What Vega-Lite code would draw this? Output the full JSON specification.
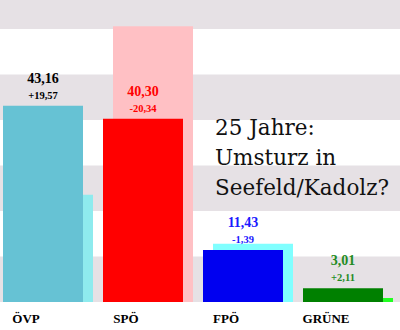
{
  "$schema": "https://vega.github.io/schema/vega-lite/v6.json",
  "width": 400,
  "height": 302,
  "padding": 0,
  "background": "#ffffff",
  "config": {"view": {"stroke": null}},
  "datasets": {
    "parties": [
      {"partei": "ÖVP", "aktuell": 43.16, "vorher": 23.59, "wert": "43,16", "diff": "+19,57"},
      {"partei": "SPÖ", "aktuell": 40.30, "vorher": 60.64, "wert": "40,30", "diff": "-20,34"},
      {"partei": "FPÖ", "aktuell": 11.43, "vorher": 12.82, "wert": "11,43", "diff": "-1,39"},
      {"partei": "GRÜNE", "aktuell": 3.01, "vorher": 0.90, "wert": "3,01", "diff": "+2,11"}
    ],
    "stripes": [
      {"von": 0, "bis": 10},
      {"von": 20, "bis": 30},
      {"von": 40, "bis": 50},
      {"von": 60, "bis": 70}
    ],
    "titel": [
      {"partei": "FPÖ", "pos": 40}
    ]
  },
  "layer": [
    {
      "data": {"name": "stripes"},
      "mark": {"type": "rect", "color": "#e6e1e5", "clip": true},
      "encoding": {
        "y": {"field": "von", "type": "quantitative", "scale": {"domain": [0, 66.4], "nice": false, "zero": true}, "axis": null},
        "y2": {"field": "bis"}
      }
    },
    {
      "data": {"name": "parties"},
      "mark": {"type": "bar", "width": 80, "xOffset": 3},
      "encoding": {
        "x": {"field": "partei", "type": "nominal", "sort": null,
              "scale": {"domain": ["ÖVP", "SPÖ", "FPÖ", "GRÜNE"], "range": [0, 400], "paddingInner": 0, "paddingOuter": 0},
              "axis": {"title": null, "domain": false, "ticks": false, "labelAngle": 0, "labelOffset": -24, "labelPadding": 10,
                       "labelFont": "Liberation Serif", "labelFontSize": 13, "labelFontWeight": "bold", "labelColor": "#000000"}},
        "y": {"field": "vorher", "type": "quantitative"},
        "color": {"field": "partei", "type": "nominal", "legend": null,
                  "scale": {"domain": ["ÖVP", "SPÖ", "FPÖ", "GRÜNE"], "range": ["#8eebee", "#ffc0c4", "#80ffff", "#22ff22"]}}
      }
    },
    {
      "data": {"name": "parties"},
      "mark": {"type": "bar", "width": 80, "xOffset": -7},
      "encoding": {
        "x": {"field": "partei", "type": "nominal", "sort": null},
        "y": {"field": "aktuell", "type": "quantitative"},
        "color": {"field": "partei", "type": "nominal", "legend": null,
                  "scale": {"domain": ["ÖVP", "SPÖ", "FPÖ", "GRÜNE"], "range": ["#66c2d4", "#ff0000", "#0000f0", "#008000"]}}
      }
    },
    {
      "data": {"name": "parties"},
      "mark": {"type": "text", "xOffset": -7, "dy": -27, "baseline": "middle", "font": "Liberation Serif", "fontSize": 14, "fontWeight": "bold"},
      "encoding": {
        "x": {"field": "partei", "type": "nominal", "sort": null},
        "y": {"field": "aktuell", "type": "quantitative"},
        "text": {"field": "wert"},
        "color": {"field": "partei", "type": "nominal", "legend": null,
                  "scale": {"domain": ["ÖVP", "SPÖ", "FPÖ", "GRÜNE"], "range": ["#000000", "#ff0000", "#1a1aff", "#228b22"]}}
      }
    },
    {
      "data": {"name": "parties"},
      "mark": {"type": "text", "xOffset": -7, "dy": -10, "baseline": "middle", "font": "Liberation Serif", "fontSize": 10.5, "fontWeight": "bold"},
      "encoding": {
        "x": {"field": "partei", "type": "nominal", "sort": null},
        "y": {"field": "aktuell", "type": "quantitative"},
        "text": {"field": "diff"},
        "color": {"field": "partei", "type": "nominal", "legend": null,
                  "scale": {"domain": ["ÖVP", "SPÖ", "FPÖ", "GRÜNE"], "range": ["#000000", "#ff0000", "#1a1aff", "#228b22"]}}
      }
    },
    {
      "data": {"name": "titel"},
      "mark": {"type": "text", "align": "left", "baseline": "alphabetic", "font": "DejaVu Serif", "fontSize": 21.5, "lineHeight": 30, "color": "#111111", "xOffset": -35, "dy": 15},
      "encoding": {
        "x": {"field": "partei", "type": "nominal", "sort": null},
        "y": {"field": "pos", "type": "quantitative"},
        "text": {"value": ["25 Jahre:", "Umsturz in", "Seefeld/Kadolz?"]}
      }
    }
  ],
  "resolve": {"scale": {"color": "independent"}}
}
